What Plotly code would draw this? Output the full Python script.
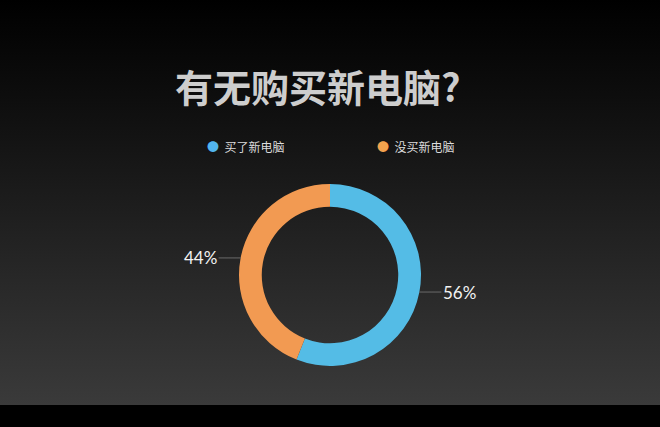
import base64
import math
import plotly.graph_objects as go

# data
labels = ["买了新电脑", "没买新电脑"]
values = [56, 44]
colors = ["#54bce6", "#f29a52"]
legend_dots = ["#52b6ee", "#f3a24e"]
title = "有无购买新电脑?"

W, H = 660, 427

# background gradient (black -> dark gray), bottom strip stays black
svg = (
    "<svg xmlns='http://www.w3.org/2000/svg' width='10' height='100' preserveAspectRatio='none'>"
    "<defs><linearGradient id='g' x1='0' y1='0' x2='0' y2='1'>"
    "<stop offset='0' stop-color='#000000'/><stop offset='0.25' stop-color='#0e0e0e'/>"
    "<stop offset='1' stop-color='#3a3a3a'/></linearGradient></defs>"
    "<rect width='10' height='100' fill='url(#g)'/></svg>"
)
bg_src = "data:image/svg+xml;base64," + base64.b64encode(svg.encode()).decode()

# donut geometry (paper coords)
cx, cy = 0.5, 0.356
rad_px = 91
dom_x = [cx - rad_px / W, cx + rad_px / W]
dom_y = [cy - rad_px / H, cy + rad_px / H]

fig = go.Figure()
fig.add_trace(
    go.Pie(
        labels=labels,
        values=values,
        hole=0.75,
        sort=False,
        direction="clockwise",
        rotation=0,
        marker=dict(colors=colors, line=dict(width=0)),
        textinfo="none",
        hoverinfo="label+percent",
        showlegend=False,
        domain=dict(x=dom_x, y=dom_y),
    )
)

annotations = []

# percent labels with leader lines, placed at slice mid-angles
total = sum(values)
acc = 0
for v in values:
    mid = (acc + v / 2) / total * 2 * math.pi
    acc += v
    px = cx + rad_px * math.sin(mid) / W
    py = cy + rad_px * math.cos(mid) / H
    side = 1 if math.sin(mid) >= 0 else -1
    annotations.append(
        dict(
            x=px, y=py, xref="paper", yref="paper",
            text=f"{round(v / total * 100)}%",
            showarrow=True, arrowhead=0, arrowwidth=1, arrowcolor="#6a6a6a",
            ax=side * 22, ay=0,
            xanchor="left" if side > 0 else "right",
            font=dict(family="Lato, Open Sans", size=17, color="#f2f2f2"),
        )
    )

# legend built from annotations (round markers)
leg_x = [212, 382]
for lab, dot, lx in zip(labels, legend_dots, leg_x):
    annotations.append(
        dict(
            x=(lx - 7) / W, y=1 - 147 / H, xref="paper", yref="paper",
            text=f"<span style='color:{dot}'>●</span>  {lab}",
            showarrow=False, xanchor="left", yanchor="middle",
            font=dict(family="Noto Sans CJK SC", size=12, color="#dcdcdc"),
        )
    )

# title
annotations.append(
    dict(
        x=318 / W, y=1 - 85 / H, xref="paper", yref="paper",
        text=f"<b>{title}</b>", showarrow=False, yanchor="middle",
        font=dict(family="Noto Sans CJK SC", size=38, color="#cdcdcd"),
    )
)

fig.update_layout(
    width=W,
    height=H,
    margin=dict(l=0, r=0, t=0, b=0),
    paper_bgcolor="#000000",
    plot_bgcolor="rgba(0,0,0,0)",
    annotations=annotations,
    images=[
        dict(
            source=bg_src, xref="paper", yref="paper",
            x=0, y=1, sizex=1, sizey=1 - 22 / H,
            xanchor="left", yanchor="top", sizing="stretch", layer="below",
        )
    ],
)

fig.write_html(
    "out.html",
    config={"displayModeBar": False},
    post_script="document.body.style.margin='0';document.body.style.background='#000';",
)
